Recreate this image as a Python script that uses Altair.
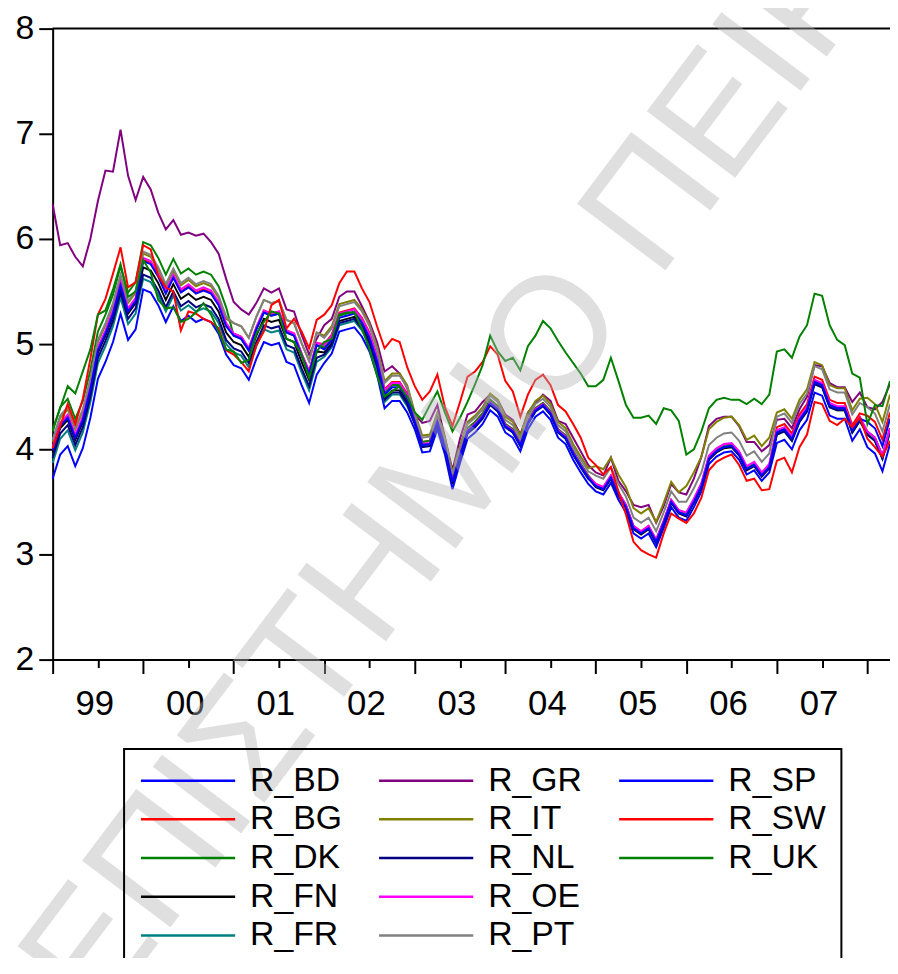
import json
import altair as alt
import pandas as pd

# ---------------- data ----------------
N_MONTHS = 112  # monthly, Jan 1999 .. Apr 2008
YEAR_LABELS = ["99", "00", "01", "02", "03", "04", "05", "06", "07"]
Y_TICKS = [2, 3, 4, 5, 6, 7, 8]

R_BD = [
    3.72, 3.95, 4.03, 3.84, 4.01, 4.30, 4.67, 4.83, 5.02, 5.29, 5.04, 5.14,
    5.52, 5.49, 5.37, 5.21, 5.36, 5.22, 5.27, 5.21, 5.24, 5.21, 5.10, 4.90,
    4.80, 4.77, 4.66, 4.86, 5.02, 4.99, 5.01, 4.83, 4.80, 4.61, 4.44, 4.71,
    4.82, 4.91, 5.12, 5.14, 5.16, 5.07, 4.93, 4.71, 4.39, 4.46, 4.46, 4.35,
    4.19, 3.97, 3.98, 4.19, 3.95, 3.62, 3.87, 4.10, 4.16, 4.24, 4.37, 4.31,
    4.16, 4.11, 3.98, 4.19, 4.31, 4.36, 4.28, 4.11, 4.05, 3.90, 3.78, 3.67,
    3.60, 3.57, 3.68, 3.52, 3.40, 3.20, 3.15, 3.20, 3.07, 3.25, 3.45, 3.35,
    3.32, 3.45, 3.60, 3.86, 3.93, 3.97, 3.98, 3.90, 3.76, 3.80, 3.70, 3.78,
    4.06, 4.09, 4.00, 4.18, 4.28, 4.54, 4.51, 4.32, 4.29, 4.29, 4.08, 4.19,
    4.02, 3.96, 3.79, 4.05,
]

R_GR = [
    6.33, 5.94, 5.96, 5.83, 5.74, 6.00, 6.36, 6.65, 6.64, 7.04, 6.60, 6.37,
    6.59, 6.47, 6.25, 6.09, 6.18, 6.04, 6.06, 6.03, 6.05, 5.97, 5.86, 5.62,
    5.40, 5.33, 5.28, 5.39, 5.53, 5.49, 5.53, 5.33, 5.31, 5.09, 4.90, 5.05,
    5.18, 5.24, 5.45, 5.50, 5.50, 5.36, 5.21, 5.02, 4.74, 4.79, 4.72, 4.58,
    4.33, 4.25, 4.27, 4.42, 4.11, 3.80, 4.10, 4.33, 4.36, 4.45, 4.52, 4.47,
    4.33, 4.28, 4.14, 4.35, 4.44, 4.52, 4.46, 4.27, 4.24, 4.11, 3.98, 3.85,
    3.78, 3.75, 3.92, 3.70, 3.60, 3.47, 3.45, 3.47, 3.30, 3.46, 3.67, 3.59,
    3.57, 3.72, 3.93, 4.22, 4.29, 4.31, 4.31, 4.22, 4.07, 4.07, 3.98, 4.04,
    4.28, 4.29, 4.20, 4.38, 4.50, 4.80, 4.79, 4.63, 4.59, 4.59, 4.45, 4.54,
    4.40, 4.38, 4.45, 4.62,
]

R_SW = [
    4.01, 4.22, 4.43, 4.24, 4.48, 4.86, 5.28, 5.43, 5.67, 5.92, 5.54, 5.59,
    5.94, 5.90, 5.65, 5.54, 5.50, 5.13, 5.31, 5.29, 5.24, 5.21, 5.15, 4.94,
    4.90, 4.83, 4.74, 4.99, 5.12, 5.37, 5.42, 5.15, 5.24, 5.12, 4.96, 5.23,
    5.28, 5.37, 5.58, 5.69, 5.69, 5.53, 5.40, 5.17, 4.96, 5.05, 5.02, 4.78,
    4.60, 4.47, 4.55, 4.71, 4.40, 4.22, 4.45, 4.69, 4.74, 4.83, 4.98, 4.90,
    4.65, 4.55, 4.31, 4.52, 4.66, 4.71, 4.61, 4.42, 4.36, 4.24, 4.11, 3.92,
    3.85, 3.76, 3.83, 3.60, 3.38, 3.12, 3.04, 3.00, 2.97, 3.20, 3.39, 3.34,
    3.30, 3.39, 3.54, 3.80, 3.88, 3.92, 3.95, 3.85, 3.70, 3.72, 3.61, 3.62,
    3.89, 3.92, 3.78, 4.02, 4.14, 4.45, 4.43, 4.27, 4.23, 4.29, 4.21, 4.30,
    4.10, 4.02, 3.93, 4.08,
]

R_UK = [
    4.19, 4.39, 4.60, 4.53, 4.74, 4.95, 5.28, 5.32, 5.52, 5.76, 5.45, 5.50,
    5.80, 5.68, 5.42, 5.34, 5.35, 5.21, 5.24, 5.30, 5.39, 5.28, 5.12, 4.95,
    4.93, 4.82, 4.85, 5.10, 5.21, 5.31, 5.29, 5.05, 5.02, 4.90, 4.68, 4.93,
    5.02, 5.05, 5.28, 5.30, 5.30, 5.15, 4.95, 4.70, 4.50, 4.55, 4.60, 4.50,
    4.35, 4.28, 4.42, 4.55, 4.35, 4.17, 4.30, 4.45, 4.62, 4.80, 5.08, 4.93,
    4.84, 4.87, 4.75, 4.98, 5.08, 5.22, 5.15, 5.03, 4.92, 4.82, 4.72, 4.60,
    4.60, 4.66, 4.87, 4.65, 4.42, 4.30, 4.30, 4.32, 4.24, 4.39, 4.37, 4.27,
    3.95, 4.00, 4.17, 4.39, 4.47, 4.49, 4.47, 4.47, 4.43, 4.48, 4.43, 4.52,
    4.93, 4.95, 4.87, 5.07, 5.18, 5.48, 5.46, 5.18, 5.04, 4.99, 4.72, 4.68,
    4.24, 4.42, 4.41, 4.65,
]

# gap of each euro-area / Nordic yield over R_BD, read per calendar year 1999..2008
SPREADS = {
    "R_BG": [0.28, 0.28, 0.30, 0.18, 0.10, 0.08, 0.07, 0.07, 0.15, 0.30],
    "R_DK": [0.45, 0.45, 0.28, 0.15, 0.10, 0.08, 0.06, 0.05, 0.08, 0.12],
    "R_FN": [0.25, 0.21, 0.22, 0.10, 0.07, 0.06, 0.04, 0.04, 0.10, 0.15],
    "R_FR": [0.15, 0.10, 0.12, 0.06, 0.06, 0.05, 0.06, 0.06, 0.09, 0.12],
    "R_IT": [0.35, 0.34, 0.40, 0.26, 0.16, 0.15, 0.24, 0.33, 0.29, 0.47],
    "R_NL": [0.20, 0.14, 0.16, 0.08, 0.05, 0.05, 0.05, 0.05, 0.08, 0.12],
    "R_OE": [0.30, 0.30, 0.30, 0.17, 0.08, 0.07, 0.07, 0.08, 0.12, 0.15],
    "R_PT": [0.37, 0.36, 0.40, 0.24, 0.14, 0.12, 0.15, 0.18, 0.25, 0.38],
    "R_SP": [0.27, 0.27, 0.28, 0.13, 0.07, 0.06, 0.05, 0.05, 0.10, 0.24],
}

SERIES = ["R_BD", "R_BG", "R_DK", "R_FN", "R_FR", "R_GR", "R_IT",
          "R_NL", "R_OE", "R_PT", "R_SP", "R_SW", "R_UK"]
COLORS = {
    "R_BD": "#0000ff", "R_BG": "#ff0000", "R_DK": "#008000", "R_FN": "#000000",
    "R_FR": "#008080", "R_GR": "#800080", "R_IT": "#808000", "R_NL": "#000080",
    "R_OE": "#ff00ff", "R_PT": "#808080", "R_SP": "#0000ff", "R_SW": "#ff0000",
    "R_UK": "#008000",
}
WATERMARK = "ΠΑΝΕΠΙΣΤΗΜΙΟ ΠΕΙΡΑΙΩΣ"

# ---------------- build table ----------------
values = {"R_BD": R_BD, "R_GR": R_GR, "R_SW": R_SW, "R_UK": R_UK}
for name, yearly in SPREADS.items():
    values[name] = [round(R_BD[i] + yearly[i // 12], 2) for i in range(N_MONTHS)]

rows = []
for name in SERIES:
    for i, v in enumerate(values[name]):
        rows.append({"t": i, "value": v, "series": name})
df = pd.DataFrame(rows)

# two empty slots complete the 5 x 3 legend grid (third column has 3 entries)
LEGEND_DOMAIN = SERIES + [" ", "  "]
LEGEND_RANGE = [COLORS[s] for s in SERIES] + ["rgba(0,0,0,0)", "rgba(0,0,0,0)"]

FONT = "Liberation Sans"
x_scale = alt.Scale(domain=[0, N_MONTHS - 1], nice=False, zero=False)
y_scale = alt.Scale(domain=[2, 8], nice=False, zero=False)

label_expr = (
    f"datum.value % 12 == 0 && datum.value < {12 * len(YEAR_LABELS)} ? "
    f"{json.dumps(YEAR_LABELS)}[datum.value / 12] : ''"
)

x_axis = alt.Axis(
    values=list(range(0, N_MONTHS, 3)),
    labelExpr=label_expr,
    labelOffset=42,
    labelFlush=False,
    labelOverlap=False,
    labelFontSize=35,
    labelPadding=13,
    tickSize={"condition": {"test": "datum.value % 12 == 0", "value": 14}, "value": 8},
    title=None,
    grid=False,
)
y_axis = alt.Axis(
    values=Y_TICKS,
    format="d",
    tickSize=14,
    labelPadding=5,
    labelFontSize=34,
    title=None,
    grid=False,
)

lines = alt.Chart(df).mark_line(strokeWidth=2).encode(
    x=alt.X("t:Q", scale=x_scale, axis=x_axis),
    y=alt.Y("value:Q", scale=y_scale, axis=y_axis),
    color=alt.Color(
        "series:N",
        scale=alt.Scale(domain=LEGEND_DOMAIN, range=LEGEND_RANGE),
        legend=alt.Legend(
            orient="none",
            legendX=72,
            legendY=726,
            columns=3,
            title=None,
            symbolType="M-1,0H5.33",
            symbolSize=900,
            symbolStrokeWidth=2.5,
            labelFontSize=34,
            labelFont=FONT,
            labelColor="black",
            labelOffset=78,
            labelLimit=500,
            rowPadding=5,
            columnPadding=32,
            padding=15,
            strokeColor="black",
        ),
    ),
)

top_rule = alt.Chart(pd.DataFrame({"v": [Y_TICKS[-1]]})).mark_rule(
    color="black", strokeWidth=2
).encode(y=alt.Y("v:Q", scale=y_scale))

watermark = alt.Chart(
    pd.DataFrame({"t": [53.7], "v": [3.85], "txt": [WATERMARK]})
).mark_text(
    angle=307, fontSize=162, font=FONT, color="#b4b4b4", opacity=0.41,
    align="center", baseline="middle",
).encode(x=alt.X("t:Q", scale=x_scale), y=alt.Y("v:Q", scale=y_scale), text="txt:N")

chart = (
    alt.layer(lines, top_rule, watermark)
    .properties(
        width=844,
        height=636,
        autosize=alt.AutoSizeParams(type="none"),
        padding={"left": 45, "top": 17, "right": 0, "bottom": 297},
        background="white",
    )
    .configure_view(stroke=None)
    .configure_axis(
        domainColor="black", domainWidth=2, tickColor="black", tickWidth=2,
        labelColor="black", labelFont=FONT,
    )
    .configure_legend(strokeWidth=2)
)

chart.save("out.html", embed_options={"renderer": "svg", "actions": False})
